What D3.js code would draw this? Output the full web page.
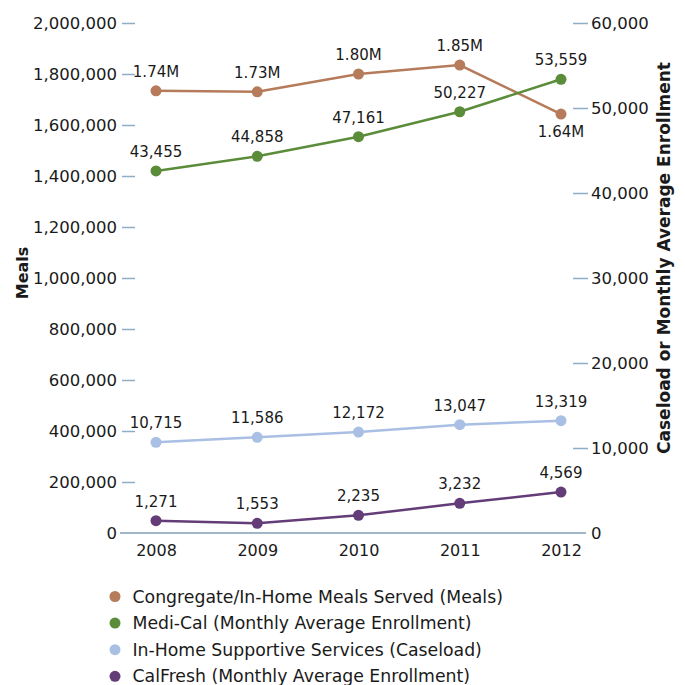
<!DOCTYPE html>
<html><head><meta charset="utf-8">
<script src="https://cdn.jsdelivr.net/npm/d3@7"></script>
<style>body{margin:0;background:#fff}svg{display:block}text{font-family:"DejaVu Sans",sans-serif;fill:#1a1a1a}</style>
</head><body><svg id="c" width="685" height="685"></svg>
<script>
const years = ["2008","2009","2010","2011","2012"];
const leftTicks = [0,200000,400000,600000,800000,1000000,1200000,1400000,1600000,1800000,2000000];
const rightTicks = [0,10000,20000,30000,40000,50000,60000];
// plotted values (read from point positions)
const mealsValues   = [1734000,1730000,1800000,1835000,1643000];
const mediCalValues = [42590,44320,46620,49560,53380];
const ihssValues    = [10670,11260,11880,12740,13210];
const calFreshValues= [1450,1140,2080,3490,4820];
// printed labels
const mealsLabels   = ["1.74M","1.73M","1.80M","1.85M","1.64M"];
const mediCalLabels = ["43,455","44,858","47,161","50,227","53,559"];
const ihssLabels    = ["10,715","11,586","12,172","13,047","13,319"];
const calFreshLabels= ["1,271","1,553","2,235","3,232","4,569"];
const seriesNames = ["Congregate/In-Home Meals Served (Meals)","Medi-Cal (Monthly Average Enrollment)","In-Home Supportive Services (Caseload)","CalFresh (Monthly Average Enrollment)"];
const seriesColors = ["#b57b5a","#5b8c3a","#a9bfe3","#633c78"];

const svg = d3.select("#c");
const x = d3.scalePoint().domain(years).range([156,561]);
const yL = d3.scaleLinear().domain([0,2000000]).range([533,23]);
const yR = d3.scaleLinear().domain([0,60000]).range([533,23]);
const tickColor = "#8eadc6";

svg.append("line").attr("x1",120).attr("x2",586).attr("y1",yL(0)).attr("y2",yL(0))
  .attr("stroke","#9fb6c9").attr("stroke-width",2);

const fmt = d3.format(",");
const gL = svg.append("g").attr("transform","translate(135,0)")
  .call(d3.axisLeft(yL).tickValues(leftTicks).tickFormat(fmt).tickSize(13).tickPadding(5));
const gR = svg.append("g").attr("transform","translate(573,0)")
  .call(d3.axisRight(yR).tickValues(rightTicks).tickFormat(fmt).tickSize(15).tickPadding(3));
[gL,gR].forEach(g=>{
  g.select(".domain").remove();
  g.selectAll(".tick line").attr("stroke",tickColor).attr("stroke-width",1.5);
  g.selectAll(".tick text").attr("font-size",16.5).attr("fill","#1a1a1a").style("font-family","DejaVu Sans");
});
gL.selectAll(".tick").filter(d=>d===0).select("line").remove();
gR.selectAll(".tick").filter(d=>d===0).select("line").remove();

const gX = svg.append("g").attr("transform","translate(0,533)")
  .call(d3.axisBottom(x).tickSize(0).tickPadding(12));
gX.select(".domain").remove();
gX.selectAll(".tick text").attr("font-size",16).attr("fill","#1a1a1a").style("font-family","DejaVu Sans");

svg.append("text").attr("transform","translate(28,273) rotate(-90)").attr("text-anchor","middle")
  .attr("font-size",16).attr("font-weight","bold").text("Meals");
svg.append("text").attr("transform","translate(670,258) rotate(-90)").attr("text-anchor","middle")
  .attr("font-size",17).attr("font-weight","bold").text("Caseload or Monthly Average Enrollment");

const series = [
  {vals:mealsValues, labels:mealsLabels, scale:yL, color:seriesColors[0], below:[false,false,false,false,true]},
  {vals:mediCalValues, labels:mediCalLabels, scale:yR, color:seriesColors[1], below:[false,false,false,false,false]},
  {vals:ihssValues, labels:ihssLabels, scale:yR, color:seriesColors[2], below:[false,false,false,false,false]},
  {vals:calFreshValues, labels:calFreshLabels, scale:yR, color:seriesColors[3], below:[false,false,false,false,false]}
];
series.forEach(s=>{
  const line = d3.line().x((d,i)=>x(years[i])).y(d=>s.scale(d));
  svg.append("path").datum(s.vals).attr("d",line).attr("fill","none")
    .attr("stroke",s.color).attr("stroke-width",2.5);
  svg.selectAll(null).data(s.vals).enter().append("circle")
    .attr("cx",(d,i)=>x(years[i])).attr("cy",d=>s.scale(d)).attr("r",5.5).attr("fill",s.color);
  svg.selectAll(null).data(s.vals).enter().append("text")
    .attr("x",(d,i)=>x(years[i])).attr("y",(d,i)=>s.scale(d)+(s.below[i]?23:-14))
    .attr("text-anchor","middle").attr("font-size",15).text((d,i)=>s.labels[i]);
});

const leg = svg.append("g");
seriesNames.forEach((n,i)=>{
  const gy = 596.5 + i*26.6;
  leg.append("circle").attr("cx",115).attr("cy",gy).attr("r",5.5).attr("fill",seriesColors[i]);
  leg.append("text").attr("x",132.5).attr("y",gy+6).attr("font-size",17.3).text(n);
});
</script></body></html>
